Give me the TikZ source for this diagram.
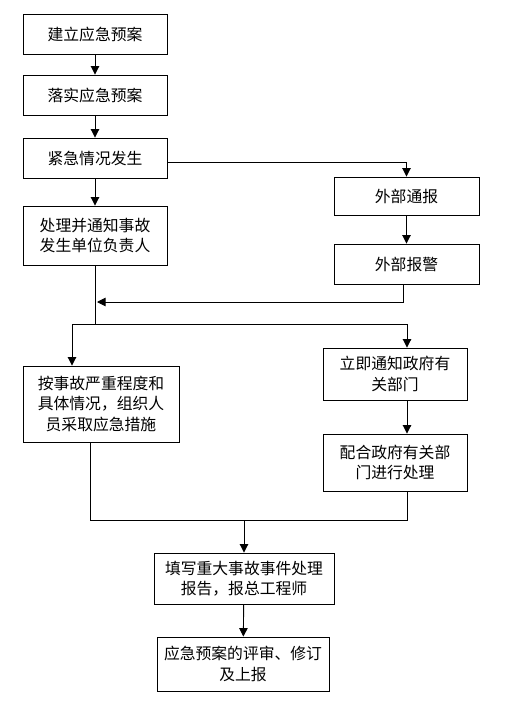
\documentclass[tikz,border=0pt]{standalone}
\usepackage{fontspec}
\setmainfont{Noto Sans CJK SC}
\usetikzlibrary{arrows.meta}

\begin{document}
\begin{tikzpicture}[x=1pt,y=-1pt,
        stepbox/.style={draw, line width=0.9pt, align=center, inner sep=0pt,
            font=\fontsize{15.8}{20.5}\selectfont},
        arr/.style={-{Triangle[length=8.5pt,width=8.5pt]}, line width=0.9pt},
        ln/.style={line width=0.9pt}]
        \useasboundingbox (0,0) rectangle (519,704);

        % Left column
        \node[stepbox, minimum width=144pt, minimum height=40pt] (setup) at (95,34) {建立应急预案};
        \node[stepbox, minimum width=144pt, minimum height=40pt] (apply) at (95,95) {落实应急预案};
        \node[stepbox, minimum width=144pt, minimum height=40pt] (event) at (95,158) {紧急情况发生};
        \node[stepbox, minimum width=144pt, minimum height=59pt] (notify) at (95,235.5) {处理并通知事故\\发生单位负责人};

        % Right column
        \node[stepbox, minimum width=145pt, minimum height=38pt] (extrep) at (406.5,196) {外部通报};
        \node[stepbox, minimum width=145pt, minimum height=40pt] (alarm) at (406.5,264) {外部报警};

        % Second stage
        \node[stepbox, minimum width=156pt, minimum height=76pt] (act) at (101,404) {按事故严重程度和\\具体情况，组织人\\员采取应急措施};
        \node[stepbox, minimum width=144pt, minimum height=52pt] (gov) at (395,374) {立即通知政府有\\关部门};
        \node[stepbox, minimum width=144pt, minimum height=57pt] (govhelp) at (395,462.5) {配合政府有关部\\门进行处理};

        % Final reports
        \node[stepbox, minimum width=180pt, minimum height=51pt] (report) at (244,578.5) {填写重大事故事件处理\\报告，报总工程师};
        \node[stepbox, minimum width=172pt, minimum height=54pt] (review) at (243,664) {应急预案的评审、修订\\及上报};

        % Junction points
        \coordinate (back) at (97,302);
        \coordinate (split) at (95,324);
        \coordinate (merge) at (244,520);

        % Connectors
        \draw[arr] (setup) -- (apply);
        \draw[arr] (apply) -- (event);
        \draw[arr] (event) -- (notify);
        \draw[arr] ([yshift=-4pt]event.east) -| (extrep.north);
        \draw[arr] (extrep) -- (alarm);
        \draw[arr] ([xshift=-3pt]alarm.south) |- (back);
        \draw[ln] (notify.south) -- (split);
        \draw[arr] (split) -| ([xshift=-29pt]act.north);
        \draw[arr] (split) -| ([xshift=12pt]gov.north);
        \draw[arr] ([xshift=12pt]gov.south) -- ([xshift=12pt]govhelp.north);
        \draw[ln] ([xshift=-11pt]act.south) |- (merge);
        \draw[ln] ([xshift=12pt]govhelp.south) |- (merge);
        \draw[arr] (merge) -- (report);
        \draw[arr] (report) -- (review);

    \end{tikzpicture}
\end{document}
